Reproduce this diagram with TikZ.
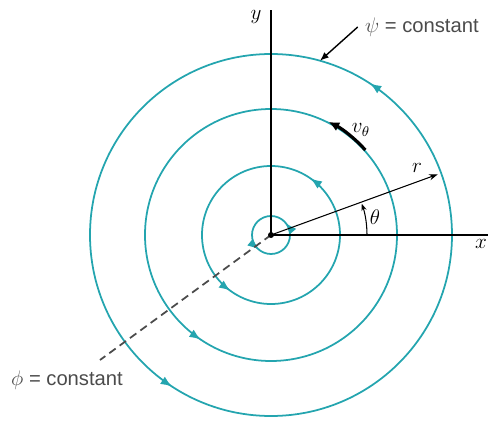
\documentclass[tikz,border=0pt]{standalone}
\usepackage{fontspec}
\setmainfont{Liberation Sans}
\usetikzlibrary{arrows.meta, decorations.markings, calc}
\definecolor{myteal}{RGB}{36,165,175}
\definecolor{mygray}{RGB}{75,75,75}

\begin{document}
\begin{tikzpicture}[font=\fontsize{11.5}{13}\selectfont,
    streamline/.style={myteal, line width=1pt},
    flowmark/.style={postaction={decorate, decoration={markings,
        mark=at position #1 with {\arrow{Latex[length=6.5pt,width=5pt]}}}}},
    axis/.style={line width=1.1pt},
    lbl/.style={inner sep=1pt}]
    \useasboundingbox (-5.42,-3.7) rectangle (4.34,4.7);
    \coordinate (O) at (0,0);
    % streamlines: circles psi = constant
    \draw[streamline, flowmark=0.111, flowmark=0.639] (0.38,0) arc[start angle=0, end angle=360, radius=0.38];
    \draw[streamline, flowmark=0.153, flowmark=0.650] (1.38,0) arc[start angle=0, end angle=360, radius=1.38];
    \draw[streamline, flowmark=0.656] (2.52,0) arc[start angle=0, end angle=360, radius=2.52];
    \draw[streamline, flowmark=0.158, flowmark=0.658] (3.62,0) arc[start angle=0, end angle=360, radius=3.62];
    % axes
    \coordinate (xEnd) at (4.5,0);
    \coordinate (yEnd) at (0,4.5);
    \draw[axis] (O) -- (xEnd);
    \draw[axis] (O) -- (yEnd);
    \node[lbl] (xlab) at (4.2,-0.17) {$x$};
    \node[lbl] (ylab) at (-0.3,4.36) {$y$};
    % equipotential line
    \coordinate (phiEnd) at (-3.42,-2.5);
    \draw[mygray, line width=1pt, dash pattern=on 4.5pt off 2.8pt] (O) -- (phiEnd);
    \node[lbl, text=mygray] (phi) at (-4.08,-2.9) {$\phi$ = constant};
    % radius and angle
    \coordinate (rEnd) at (20:3.55);
    \draw[line width=0.6pt, -{Stealth[length=5pt,width=3.5pt]}] (O) -- (rEnd);
    \node[lbl] (rlab) at (2.92,1.34) {$r$};
    \draw[line width=0.6pt, -{Stealth[length=4pt,width=3pt]}] (0:1.92) arc[start angle=0, end angle=19, radius=1.92];
    \node[lbl] (thlab) at (2.08,0.36) {$\theta$};
    % tangential velocity
    \draw[line width=1.8pt, -{Latex[length=6pt,width=5.5pt]}] (42:2.54) arc[start angle=42, end angle=63, radius=2.54];
    \node[lbl] (vlab) at (1.8,2.1) {$v_\theta$};
    % psi label
    \node[lbl, text=mygray, anchor=west] (psi) at (1.84,4.16) {$\psi$ = constant};
    \coordinate (psiTip) at (74.3:3.62);
    \draw[line width=0.8pt, -{Latex[length=5pt,width=4pt]}] ([xshift=-3pt]psi.west) -- (psiTip);
    % origin
    \fill (O) circle (0.06);
\end{tikzpicture}
\end{document}
